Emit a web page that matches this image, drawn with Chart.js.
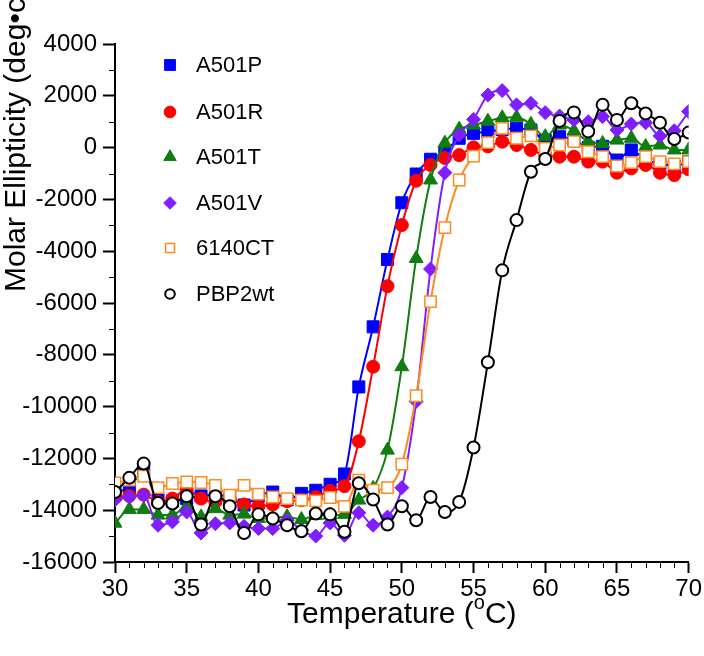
<!DOCTYPE html>
<html>
<head>
<meta charset="utf-8">
<script src="https://cdn.jsdelivr.net/npm/chart.js@4.4.1/dist/chart.umd.min.js"></script>
<style>
html,body{margin:0;padding:0;background:#fff}
#wrap{width:704px;height:656px}
</style>
</head>
<body>
<div id="wrap"><canvas id="chart"></canvas></div>
<script>
const FONT = "'Liberation Sans', Arial, Helvetica, sans-serif"

// data
const temps = [30,31,32,33,34,35,36,37,38,39,40,41,42,43,44,45,46,47,48,49,50,51,52,53,54,55,56,57,58,59,60,61,62,63,64,65,66,67,68,69,70]
const seriesNames = ["A501P","A501R","A501T","A501V","6140CT","PBP2wt"]
const a501p = [-13300,-13125,-12500,-13600,-13650,-13550,-13450,-13400,-13500,-13800,-13450,-13300,-13600,-13350,-13230,-13000,-12600,-9240,-6920,-4320,-2130,-1020,-450,-160,360,550,615,700,740,680,290,420,290,10,50,-480,-90,-480,-610,-710,-540]
const a501r = [-13500,-13450,-13400,-13680,-13550,-13200,-13550,-13680,-13550,-13780,-13850,-13780,-13650,-13610,-13500,-13250,-13070,-11340,-8460,-5350,-2990,-1280,-670,-400,-290,10,50,230,100,-90,-290,-350,-350,-540,-540,-970,-800,-670,-970,-1060,-840]
const a501t = [-14500,-13970,-13970,-14190,-14190,-13850,-14260,-13940,-14190,-14150,-14320,-14300,-14250,-14360,-14200,-14190,-14160,-13610,-13160,-11680,-8460,-4280,-1250,170,710,870,1020,1150,1170,900,420,870,650,230,160,290,360,40,100,-90,-90]
const a501v = [-13600,-13490,-13420,-14580,-14450,-14070,-14880,-14520,-14490,-14620,-14710,-14710,-14390,-14770,-15000,-14490,-14970,-14100,-14580,-14260,-13130,-9800,-4690,-970,490,1090,2030,2200,1650,1710,1350,1220,1070,1000,1200,680,910,960,450,650,1390]
const ct6140 = [-12950,-12840,-12690,-13130,-12970,-12910,-12930,-13040,-13420,-13040,-13380,-13490,-13550,-13610,-13640,-13510,-13850,-12840,-13230,-13130,-12220,-9580,-5950,-3090,-1250,-330,190,740,360,450,-30,100,230,-160,-350,-710,-580,-350,-540,-630,-540]
const pbp2wt = [-13300,-12750,-12200,-13720,-13740,-13460,-14550,-13460,-13850,-14880,-14160,-14320,-14580,-14810,-14130,-14160,-14830,-12960,-13590,-14550,-13850,-14390,-13490,-14070,-13680,-11580,-8290,-4740,-2800,-930,-440,1030,1360,620,1650,1070,1710,1320,960,330,580]
const yTicks = [-16000,-14000,-12000,-10000,-8000,-6000,-4000,-2000,0,2000,4000]
const xTicks = [30,35,40,45,50,55,60,65,70]

const styles = [
    {color:"#0000ff", fill:"#0000ff", shape:"rect", r:8.5, bw:1},
    {color:"#ff0000", fill:"#ff0000", shape:"circle", r:6.5, bw:1},
    {color:"#0f7d0f", fill:"#0f7d0f", shape:"triangle", r:8, bw:1},
    {color:"#7f1fff", fill:"#7f1fff", shape:"rectRot", r:7, bw:1},
    {color:"#ff8a1f", fill:"#ffffff", shape:"rect", r:8, bw:1.5},
    {color:"#000000", fill:"#ffffff", shape:"circle", r:6, bw:2}
]
const allValues = [a501p,a501r,a501t,a501v,ct6140,pbp2wt]

const datasets = allValues.map((vals,i)=>({
    label: seriesNames[i],
    data: temps.map((t,j)=>({x:t, y:vals[j]})),
    borderColor: styles[i].color,
    backgroundColor: styles[i].fill,
    pointBackgroundColor: styles[i].fill,
    pointBorderColor: styles[i].color,
    pointBorderWidth: styles[i].bw,
    pointStyle: styles[i].shape,
    pointRadius: styles[i].r,
    borderWidth: 2,
    cubicInterpolationMode: "monotone",
    order: allValues.length - i
}))

function drawMarker(ctx, st, x, y, scale){
    const r = st.r*scale
    ctx.save()
    ctx.fillStyle = st.fill
    ctx.strokeStyle = st.color
    ctx.lineWidth = st.bw
    ctx.beginPath()
    if(st.shape==="rect"){
        const s = r*Math.SQRT1_2
        ctx.rect(x-s,y-s,2*s,2*s)
    }else if(st.shape==="circle"){
        ctx.arc(x,y,r,0,Math.PI*2)
    }else if(st.shape==="triangle"){
        ctx.moveTo(x, y-r)
        ctx.lineTo(x+r*0.866, y+r*0.5)
        ctx.lineTo(x-r*0.866, y+r*0.5)
        ctx.closePath()
    }else if(st.shape==="rectRot"){
        ctx.moveTo(x,y-r); ctx.lineTo(x+r,y); ctx.lineTo(x,y+r); ctx.lineTo(x-r,y); ctx.closePath()
    }
    ctx.fill()
    ctx.stroke()
    ctx.restore()
}

// titles, minor ticks and legend
const decorations = {
    id: "decorations",
    afterDraw(chart){
        const ctx = chart.ctx
        const xs = chart.scales.x, ys = chart.scales.y
        const area = chart.chartArea
        ctx.save()
        ctx.strokeStyle = "#000"
        ctx.lineWidth = 1
        ctx.beginPath()
        for(let t=30;t<=70;t++){
            if(t%5===0) continue
            const px = Math.round(xs.getPixelForValue(t))+0.5
            ctx.moveTo(px, area.bottom); ctx.lineTo(px, area.bottom+6)
        }
        for(let v=-15000;v<4000;v+=2000){
            const py = Math.round(ys.getPixelForValue(v))+0.5
            ctx.moveTo(area.left-6, py); ctx.lineTo(area.left, py)
        }
        ctx.stroke()

        // x title with superscript o
        ctx.fillStyle = "#000"
        ctx.textBaseline = "alphabetic"
        const big = "30px "+FONT, small = "20px "+FONT
        ctx.font = big
        const a = "Temperature (", c = "C)"
        const wa = ctx.measureText(a).width, wc = ctx.measureText(c).width
        ctx.font = small
        const wo = ctx.measureText("o").width
        let x0 = (area.left+area.right)/2 - (wa+wo+wc)/2
        const base = 623
        ctx.font = big; ctx.textAlign = "left"
        ctx.fillText(a, x0, base)
        ctx.font = small
        ctx.fillText("o", x0+wa, base-14)
        ctx.font = big
        ctx.fillText(c, x0+wa+wo, base)

        // y title
        ctx.save()
        ctx.translate(25, 292)
        ctx.rotate(-Math.PI/2)
        ctx.font = big
        ctx.fillText("Molar Ellipticity (deg\u2022cm\u00b2\u2022dmol\u207b\u00b9)", 0, 0)
        ctx.restore()

        // legend
        const rows = [65,112,157,203,248,294]
        ctx.font = "22px "+FONT
        ctx.textBaseline = "middle"
        seriesNames.forEach((n,i)=>{
            drawMarker(ctx, styles[i], 170, rows[i], i>=4 ? 0.8 : 0.9)
            ctx.fillStyle = "#000"
            ctx.fillText(n, 196, rows[i]+1)
        })
        ctx.restore()
    }
}

new Chart(document.getElementById("chart"), {
    type: "line",
    data: {datasets},
    options: {
        responsive: true,
        maintainAspectRatio: false,
        animation: false,
        layout: {padding: {top:44, right:13, left:0, bottom:0}},
        plugins: {legend:{display:false}, tooltip:{enabled:false}},
        scales: {
            x: {
                type: "linear", min: 30, max: 70,
                afterBuildTicks: s=>{ s.ticks = xTicks.map(v=>({value:v})) },
                ticks: {color:"#000", font:{family:FONT, size:24}, padding:2, maxRotation:0},
                grid: {drawOnChartArea:false, drawTicks:true, tickLength:11, tickColor:"#000", tickWidth:2},
                border: {color:"#000", width:2},
                afterFit: s=>{ s.height = 94 }
            },
            y: {
                min: -16000, max: 4000,
                afterBuildTicks: s=>{ s.ticks = yTicks.map(v=>({value:v})) },
                ticks: {color:"#000", font:{family:FONT, size:24}, padding:6, callback: v=>String(v)},
                grid: {drawOnChartArea:false, drawTicks:true, tickLength:12, tickColor:"#000", tickWidth:2},
                border: {color:"#000", width:2},
                afterFit: s=>{ s.width = 115 }
            }
        }
    },
    plugins: [decorations]
})
</script>
</body>
</html>
